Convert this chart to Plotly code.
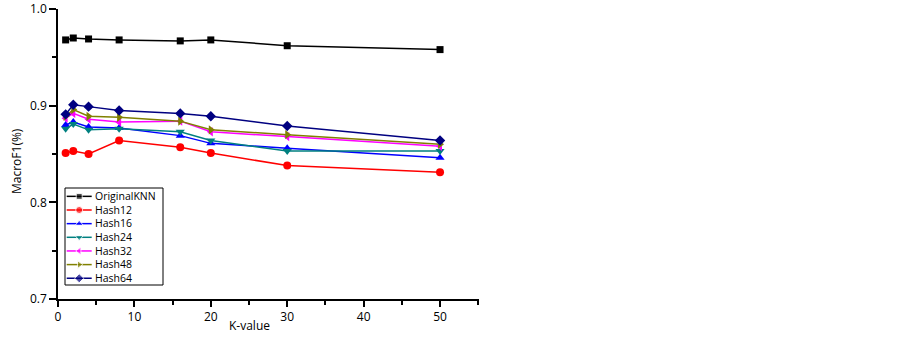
import plotly.graph_objects as go

k_values = [1, 2, 4, 8, 16, 20, 30, 50]
original_knn = [0.968, 0.970, 0.969, 0.968, 0.967, 0.968, 0.962, 0.958]
hash12 = [0.851, 0.853, 0.850, 0.864, 0.857, 0.851, 0.838, 0.831]
hash16 = [0.880, 0.883, 0.878, 0.877, 0.869, 0.861, 0.856, 0.846]
hash24 = [0.876, 0.881, 0.875, 0.876, 0.873, 0.864, 0.853, 0.853]
hash32 = [0.887, 0.892, 0.886, 0.883, 0.884, 0.873, 0.868, 0.858]
hash48 = [0.889, 0.896, 0.889, 0.888, 0.884, 0.875, 0.870, 0.860]
hash64 = [0.891, 0.901, 0.899, 0.895, 0.892, 0.889, 0.879, 0.864]

x_ticks = [0, 10, 20, 30, 40, 50]
y_ticks = [0.7, 0.8, 0.9, 1.0]
y_tick_labels = ["0.7", "0.8", "0.9", "1.0"]

series = [
    ("OriginalKNN", original_knn, "#000000", "square", 7),
    ("Hash12", hash12, "#ff0000", "circle", 8),
    ("Hash16", hash16, "#0000ff", "triangle-up", 8),
    ("Hash24", hash24, "#008080", "triangle-down", 8),
    ("Hash32", hash32, "#ff00ff", "triangle-left", 8),
    ("Hash48", hash48, "#808000", "triangle-right", 8),
    ("Hash64", hash64, "#000080", "diamond", 8),
]

FONT = "Open Sans, Liberation Sans, Arial, sans-serif"

# plot-area geometry (px) used to lay out the compact legend
PLOT_L, PLOT_R, PLOT_T, PLOT_B = 58, 479, 9, 299
PLOT_W, PLOT_H = PLOT_R - PLOT_L, PLOT_B - PLOT_T
LEG_FONT = 10.5
LEG_STEP_PX = LEG_FONT * 1.3
LEG_CENTER_PX = 237.3


def px_x(p):
    return (p - PLOT_L) / PLOT_W


def px_y(p):
    return (PLOT_B - p) / PLOT_H


fig = go.Figure()
shapes = [dict(type="rect", xref="paper", yref="paper", x0=px_x(65), x1=px_x(163),
               y0=px_y(285), y1=px_y(188), line=dict(color="black", width=1),
               fillcolor="white", layer="below")]

for name, vals, color, sym, msize in series:
    fig.add_trace(go.Scatter(
        x=k_values, y=vals, name=name, mode="lines+markers",
        line=dict(color=color, width=1.5),
        marker=dict(symbol=sym, size=msize, color=color),
        showlegend=False,
    ))

# compact legend samples drawn on an overlay axis spanning the plot area
n = len(series)
for i, (name, vals, color, sym, msize) in enumerate(series):
    yy = px_y(LEG_CENTER_PX + (i - (n - 1) / 2) * LEG_STEP_PX)
    x0, x1 = px_x(66.7), px_x(91.7)
    fig.add_trace(go.Scatter(
        x=[x0, (x0 + x1) / 2, x1], y=[yy, yy, yy],
        mode="lines+markers", xaxis="x2", yaxis="y2",
        line=dict(color=color, width=1.5),
        marker=dict(symbol=sym, size=[0, msize - 1, 0], color=color),
        showlegend=False, hoverinfo="skip",
    ))

annotations = [
    dict(text="<br>".join(s[0] for s in series), x=px_x(94), y=px_y(LEG_CENTER_PX),
         xref="paper", yref="paper", showarrow=False, xanchor="left", yanchor="middle",
         align="left", borderpad=0, font=dict(size=LEG_FONT, family=FONT)),
    dict(text="K-value", x=25, y=px_y(325), xref="x", yref="paper", showarrow=False,
         xanchor="center", yanchor="middle", font=dict(size=12, family=FONT)),
    dict(text="MacroF1(%)", x=px_x(17), y=px_y(161), xref="paper", yref="paper",
         showarrow=False, textangle=-90, xanchor="center", yanchor="middle",
         font=dict(size=12, family=FONT)),
]

fig.update_layout(
    width=903, height=342,
    margin=dict(l=PLOT_L, r=903 - PLOT_R, t=PLOT_T, b=342 - PLOT_B, autoexpand=False),
    paper_bgcolor="white", plot_bgcolor="white",
    font=dict(family=FONT, size=12, color="black"),
    showlegend=False,
    shapes=shapes,
    annotations=annotations,
    xaxis=dict(
        range=[0, 55.1], showgrid=False, zeroline=False, automargin=False,
        showline=True, linecolor="black", linewidth=1.5,
        tickmode="array", tickvals=x_ticks, ticklabeloverflow="allow",
        ticks="outside", ticklen=6, tickcolor="black", tickwidth=1.5,
        minor=dict(tickvals=[5, 15, 25, 35, 45, 55], ticks="outside", ticklen=4,
                   tickcolor="black", tickwidth=1.5),
        tickfont=dict(size=12, family=FONT),
    ),
    yaxis=dict(
        range=[0.7, 1.0], showgrid=False, zeroline=False, automargin=False,
        showline=True, linecolor="black", linewidth=1.5,
        tickmode="array", tickvals=y_ticks, ticktext=y_tick_labels,
        ticklabeloverflow="allow",
        ticks="outside", ticklen=7, tickcolor="black", tickwidth=1.5,
        minor=dict(tickvals=[0.75, 0.85, 0.95], ticks="outside", ticklen=4,
                   tickcolor="black", tickwidth=1.5),
        tickfont=dict(size=12, family=FONT),
    ),
    xaxis2=dict(overlaying="x", range=[0, 1], visible=False, fixedrange=True),
    yaxis2=dict(overlaying="y", range=[0, 1], visible=False, fixedrange=True),
)

fig.write_html("out.html", config={"displayModeBar": False},
               post_script="document.body.style.margin='0';")
